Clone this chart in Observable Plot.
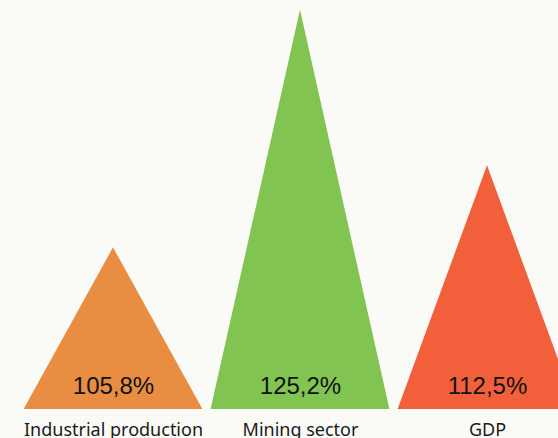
<!DOCTYPE html>
<html>
<head>
<meta charset="utf-8">
<script src="https://cdn.jsdelivr.net/npm/d3@7"></script>
<script src="https://cdn.jsdelivr.net/npm/@observablehq/plot@0.6"></script>
<style>
  html, body { margin: 0; padding: 0; background: #fafaf6; overflow: hidden; }
  #chart svg { display: block; overflow: hidden; }
</style>
</head>
<body>
<div id="chart"></div>
<script>
const categories = ["Industrial production", "Mining sector", "GDP"];
const values = [105.8, 125.2, 112.5];
const colors = ["#E98D43", "#82C452", "#F2603B"];

const yMin = 92.6, yMax = 126;
const halfWidth = 0.478;

const points = categories.flatMap((c, i) => [
  {cat: c, x: i - halfWidth, y: yMin},
  {cat: c, x: i, y: values[i]},
  {cat: c, x: i + halfWidth, y: yMin}
]);
const labels = categories.map((c, i) => ({cat: c, i, v: values[i]}));
const fmt = v => v.toFixed(1).replace(".", ",") + "%";

const chart = Plot.plot({
  width: 558,
  height: 438,
  marginTop: 0,
  marginBottom: 29,
  marginLeft: 0,
  marginRight: 0,
  style: {background: "#fafaf6", fontFamily: "'Noto Sans', sans-serif", fontSize: "18px", color: "#1a1a1a"},
  x: {domain: [0, 2], range: [113, 487]},
  y: {domain: [yMin, yMax], axis: null},
  color: {domain: categories, range: colors},
  marks: [
    Plot.area(points, {x1: "x", y1: () => yMin, y2: "y", z: "cat", fill: "cat", curve: "linear"}),
    Plot.text(labels, {x: "i", y: () => yMin, text: d => fmt(d.v), dy: -23, fontSize: 24, fontFamily: "'Liberation Sans', Arial, sans-serif", fill: "#111"}),
    Plot.axisX({ticks: [0, 1, 2], tickFormat: i => categories[i], tickSize: 0, tickPadding: 14, fontSize: 18})
  ]
});
document.getElementById("chart").appendChild(chart);
</script>
</body>
</html>
